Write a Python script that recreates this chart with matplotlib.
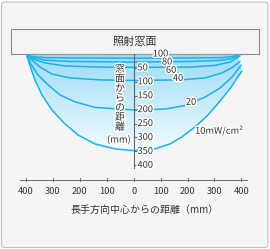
import numpy as np
import matplotlib.pyplot as plt
import matplotlib.patheffects as pe
from matplotlib.patches import FancyBboxPatch, Rectangle, Polygon

plt.rcParams['font.family'] = ['Noto Sans CJK JP', 'DejaVu Sans']

# 等照度曲線 (mW/cm2): x = 長手方向中心からの距離 (mm), d = 窓面からの距離 (mm)
levels = [100, 80, 60, 40, 20, 10]
x100 = [-397, -374, -330, -237, 0, 209, 328, 365, 388]
d100 = [4, 9, 13, 14, 15, 14, 13, 9, 4]
x80 = [-397, -374, -330, -237, 0, 209, 321, 365, 391]
d80 = [4, 13, 22, 27, 29, 27, 23, 16, 5]
x60 = [-397, -374, -330, -255, -125, 0, 209, 302, 358, 395]
d60 = [4, 18, 32, 43, 47, 48, 47, 41, 29, 7]
x40 = [-397, -378, -348, -304, -237, -125, 0, 172, 265, 328, 369, 395]
d40 = [4, 22, 47, 72, 86, 93, 95, 93, 86, 68, 47, 27]
x20 = [-397, -382, -356, -318, -274, -218, -144, 0, 116, 191, 265, 321, 365, 399]
d20 = [7, 36, 75, 111, 147, 172, 192, 201, 198, 185, 155, 122, 83, 40]
x10 = [-397, -385, -367, -341, -304, -259, -207, -144, -69, 0, 79, 135, 179,
       232, 276, 321, 362, 402]
d10 = [7, 43, 93, 147, 201, 248, 291, 323, 341, 347, 341, 323, 298, 259, 219,
       169, 119, 61]
curves = [(x100, d100), (x80, d80), (x60, d60), (x40, d40), (x20, d20), (x10, d10)]

# ラベル位置
label_x = [100, 124, 139, 165, 213, 228]
label_d = [0, 29, 59, 88, 174, 277]

x_ticks = [-400, -300, -200, -100, 0, 100, 200, 300, 400]
x_tick_labels = ['400', '300', '200', '100', '0', '100', '200', '300', '400']
y_ticks = [50, 100, 150, 200, 250, 300, 350, 400]
y_label = '窓面からの距離'
x_label = '長手方向中心からの距離（mm）'

line_c = '#1bb2ea'
text_c = '#333333'
halo = [pe.withStroke(linewidth=2, foreground='white')]

fig = plt.figure(figsize=(2.7, 2.49), dpi=100)
fig.patch.set_facecolor('white')
fig.add_artist(FancyBboxPatch((1.5 / 270, 1.5 / 249), 266.5 / 270, 245.5 / 249,
                              boxstyle='round,pad=0,rounding_size=0.012',
                              transform=fig.transFigure, fc='#f5f5f5',
                              ec='#c2c2c2', lw=0.8, zorder=-1))

ax = fig.add_axes([0, 0, 1, 1])
ax.set_xlim(-496.8, 506.4)
ax.set_ylim(700.7, -194)
ax.axis('off')

# 照射窓面
ax.add_patch(Rectangle((-456, -90), 922, 90, fc='#f4f4f4', ec='#8a8a8a', lw=0.8, zorder=2))
ax.text(3, -43, '照射窓面', ha='center', va='center', fontsize=8, color=text_c, zorder=6)
ax.plot([-385, 390], [1.5, 1.5], color='#a8a8a8', lw=1, ls=(0, (1, 1)), zorder=3)

# グラデーション塗り
grad = np.linspace(0, 1, 256)[:, None, None]
top = np.array([0.62, 0.86, 0.96])
bot = np.array([0.95, 0.985, 1.0])
img = top + (bot - top) * grad
im = ax.imshow(img, extent=(-400, 405, max(d10), 0), origin='upper', aspect='auto', zorder=1)
poly = Polygon(np.column_stack([x10 + [x100[-1], x10[0]], d10 + [0, 0]]),
               closed=True, transform=ax.transData)
im.set_clip_path(poly)

for (xs, ds) in curves:
    ax.plot(xs, ds, color=line_c, lw=1.1, solid_joinstyle='round',
            solid_capstyle='round', zorder=3)

for lv, lx, ld in zip(levels, label_x, label_d):
    s = str(lv) if lv != 10 else '10mW/cm²'
    ha = 'center' if lv != 10 else 'left'
    ax.text(lx, ld, s, ha=ha, va='center', fontsize=6.7, color=text_c,
            path_effects=halo, zorder=6)

# 横軸
ax.plot([-423, 421], [454, 454], color='#777777', lw=0.8, zorder=4)
for xt, lab in zip(x_ticks, x_tick_labels):
    ax.plot([xt, xt], [446, 457], color='#777777', lw=0.8, zorder=4)
    ax.text(xt, 495, lab, ha='center', va='center', fontsize=6.7, color=text_c)
ax.text(40, 561, x_label, ha='center', va='center', fontsize=7.2, color=text_c)

# 縦軸
ax.plot([0, 0], [0, 410], color='#666666', lw=0.8, zorder=4)
for yt in y_ticks:
    ax.plot([0, 12], [yt, yt], color='#666666', lw=0.8, zorder=4)
    ax.text(14, yt, str(yt), ha='left', va='center', fontsize=6.7, color=text_c,
            path_effects=halo, zorder=6)
for i, ch in enumerate(y_label):
    ax.text(-51, 54 + i * 34.7, ch, ha='center', va='center', fontsize=7.2,
            color=text_c, path_effects=halo, zorder=6)
ax.text(-55, 309, '(mm)', ha='center', va='center', fontsize=6.7, color=text_c,
        path_effects=halo, zorder=6)

fig.savefig('out.png', dpi=100)
